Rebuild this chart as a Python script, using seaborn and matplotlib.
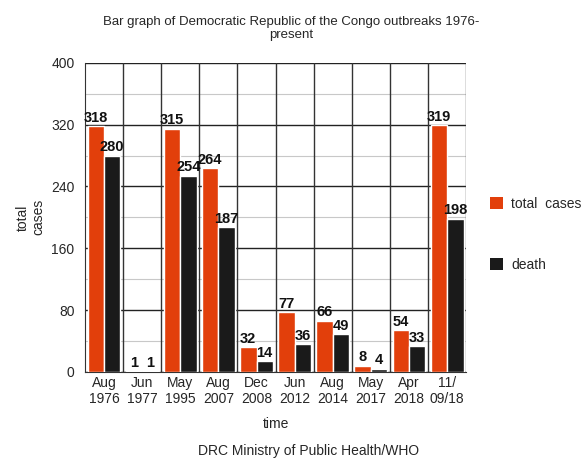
import matplotlib
matplotlib.use("Agg")
import matplotlib.pyplot as plt
from matplotlib.patches import Patch
import seaborn as sns
import pandas as pd
import numpy as np

# Outbreak dates and counts
outbreaks = ["Aug\n1976", "Jun\n1977", "May\n1995", "Aug\n2007", "Dec\n2008",
             "Jun\n2012", "Aug\n2014", "May\n2017", "Apr\n2018", "11/\n09/18"]
total_cases = [318, 1, 315, 264, 32, 77, 66, 8, 54, 319]
deaths = [280, 1, 254, 187, 14, 36, 49, 4, 33, 198]
series_names = ["total  cases", "death"]
colors = ["#e23f0b", "#1a1a1a"]

df = pd.DataFrame({
    "time": outbreaks * 2,
    "value": total_cases + deaths,
    "series": [series_names[0]] * len(outbreaks) + [series_names[1]] * len(outbreaks),
})

sns.set_style("white")
plt.rcParams["font.family"] = ["Liberation Sans", "DejaVu Sans"]

fig = plt.figure(figsize=(5.82, 4.59), dpi=100)
ax = fig.add_axes([0.146, 0.19, 0.655, 0.673])

sns.barplot(data=df, x="time", y="value", hue="series", order=outbreaks,
            hue_order=series_names, palette=colors, width=0.86,
            saturation=1, ax=ax, legend=False, zorder=3)

for container in ax.containers:
    ax.bar_label(container, fontsize=10.5, fontweight="bold", padding=1, color="#111111")

ax.set_ylim(0, 400)
ax.set_xlim(-0.5, len(outbreaks) - 0.5)
ax.set_yticks(np.arange(0, 401, 80))
ax.set_yticks(np.arange(40, 400, 80), minor=True)
ax.grid(axis="y", which="major", color="#222222", linewidth=1.0, zorder=0)
ax.grid(axis="y", which="minor", color="#c8c8c8", linewidth=0.8, zorder=0)
for xb in np.arange(0.5, len(outbreaks) - 0.5, 1):
    ax.axvline(xb, color="#333333", linewidth=1.0, zorder=1)
ax.set_axisbelow(True)

for side in ["top", "right"]:
    ax.spines[side].set_visible(False)
ax.axvline(len(outbreaks) - 0.5, color="#555555", linewidth=1.0, zorder=1)
ax.spines["left"].set_color("#333333")
ax.spines["bottom"].set_color("#333333")
ax.tick_params(axis="y", which="major", length=4, color="#333333", labelsize=10)
ax.tick_params(axis="y", which="minor", length=0)
ax.tick_params(axis="x", length=0, labelsize=10, pad=3)

ax.set_xlabel("time", fontsize=10, labelpad=8)
ax.set_ylabel("total\ncases", fontsize=10, labelpad=4)

fig.text(0.5, 0.965, "Bar graph of Democratic Republic of the Congo outbreaks 1976-\npresent",
         ha="center", va="top", fontsize=9.5, linespacing=1.1)
fig.text(0.53, 0.018, "DRC Ministry of Public Health/WHO", ha="center", va="center", fontsize=10)

handles = [Patch(facecolor=c, edgecolor="none") for c in colors]
ax.legend(handles, series_names, loc="center left", bbox_to_anchor=(1.03, 0.445),
          frameon=False, fontsize=10, handlelength=0.9, handleheight=0.9,
          labelspacing=3.4, handletextpad=0.6)

fig.savefig("out.png", dpi=100)
